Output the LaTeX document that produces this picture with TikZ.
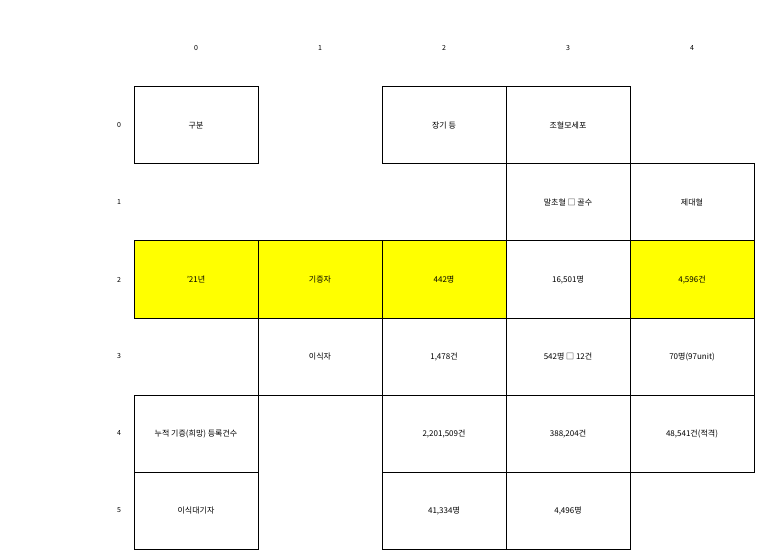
\documentclass[tikz,border=0pt]{standalone}
\usepackage{fontspec}
\setmainfont{Noto Sans CJK KR}
\usetikzlibrary{positioning}
\definecolor{hlyellow}{RGB}{255,255,0}
\begin{document}
\begin{tikzpicture}[x=1pt, y=1pt, node distance={77pt and 124pt}, on grid,
  cell/.style = {draw, line width=1pt, minimum width=124pt, minimum height=77pt, inner sep=0pt, font=\fontsize{8}{9}\selectfont},
  hl/.style = {cell, fill=hlyellow},
  axis/.style = {font=\fontsize{7}{8}\selectfont}]
\useasboundingbox (0,0) rectangle (764,-559);

\foreach \i in {0,...,4} \node[axis] (col\i) at (196+124*\i, -48) {\i};
\foreach \j in {0,...,5} \node[axis] (row\j) at (119, -125.5-77*\j) {\j};

\node[hl] (year) at (196,-279.5) {'21년};
\node[hl] (donor) [right=of year] {기증자};
\node[hl] (organ2) [right=of donor] {442명};
\node[cell] (stem2) [right=of organ2] {16,501명};
\node[hl] (cord2) [right=of stem2] {4,596건};

\node[cell] (stem1) [above=of stem2] {말초혈 □ 골수};
\node[cell] (cord1) [above=of cord2] {제대혈};
\node[cell] (stem0) [above=of stem1] {조혈모세포};
\node[cell] (organ0) [left=of stem0] {장기 등};
\node[cell] (head) [above=154pt of year] {구분};

\node[cell] (recip) [below=of donor] {이식자};
\node[cell] (organ3) [below=of organ2] {1,478건};
\node[cell] (stem3) [below=of stem2] {542명 □ 12건};
\node[cell] (cord3) [below=of cord2] {70명(97unit)};

\node[cell] (regist) [below=154pt of year] {누적 기증(희망) 등록건수};
\node[cell] (organ4) [below=of organ3] {2,201,509건};
\node[cell] (stem4) [below=of stem3] {388,204건};
\node[cell] (cord4) [below=of cord3] {48,541건(적격)};

\node[cell] (wait) [below=of regist] {이식대기자};
\node[cell] (organ5) [below=of organ4] {41,334명};
\node[cell] (stem5) [below=of stem4] {4,496명};

\end{tikzpicture}
\end{document}
